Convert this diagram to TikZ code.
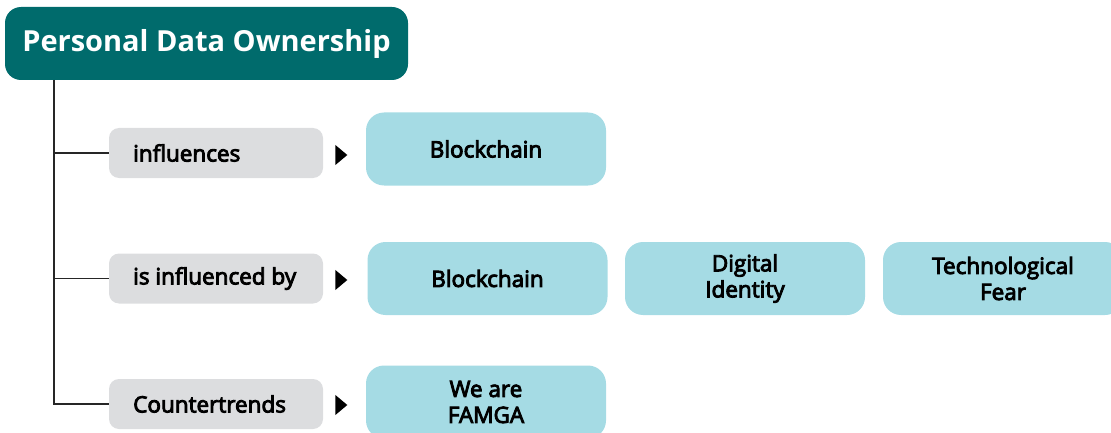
\documentclass[tikz,border=0pt]{standalone}
\usepackage{fontspec}
\setmainfont{Open Sans}
\usetikzlibrary{shapes.geometric}
\definecolor{teal1}{RGB}{0,107,108}
\definecolor{graybox}{RGB}{220,221,223}
\definecolor{cyanbox}{RGB}{165,219,228}
\newfontfamily\medfont[FakeBold=4]{Open Sans}
\tikzset{
  titlebox/.style={fill=teal1, rounded corners=16pt, inner sep=0pt, minimum width=403pt, minimum height=73pt, text=white, font=\fontsize{29}{32}\selectfont\bfseries},
  relbox/.style={fill=graybox, rounded corners=10pt, inner sep=0pt, minimum width=214pt, minimum height=50pt},
  reltext/.style={anchor=west, inner sep=0pt, font=\medfont\fontsize{22.5}{24}\selectfont},
  topicbox/.style={fill=cyanbox, rounded corners=18pt, inner sep=0pt, minimum width=240pt, minimum height=73pt, align=center, font=\medfont\fontsize{22.5}{26}\selectfont},
  tri/.style={fill=black, isosceles triangle, isosceles triangle apex angle=80, inner sep=0pt, minimum height=12pt, minimum width=19pt},
  conn/.style={draw=black!85, line width=1.2pt}
}
\begin{document}
\begin{tikzpicture}[x=1pt,y=-1pt]
\useasboundingbox (0,0) rectangle (1111,433);
\begin{scope}
\clip (0,0) rectangle (1111,433);
\node[titlebox] (title) at (206.5,43.5) {Personal Data Ownership};
\coordinate (top) at (54,80);

\node[relbox] (r1) at (216,153) {};
\node[relbox] (r2) at (216,278.5) {};
\node[relbox] (r3) at (216,404) {};
\node[reltext] (t1) at (133,153) {influences};
\node[reltext] (t2) at (133,278.5) {is influenced by};
\node[reltext] (t3) at (133,404) {Countertrends};

\draw[conn] (top) |- (r3.west);
\draw[conn] (r1.west) -- (r1.west -| top);
\draw[conn] (r2.west) -- (r2.west -| top);

\node[tri] (a1) at (340,155) {};
\node[tri] (a2) at (340,280) {};
\node[tri] (a3) at (340,405) {};

\node[topicbox] (c1) at (486,149) {Blockchain};
\node[topicbox] (c2) at (487.5,278.5) {Blockchain};
\node[topicbox] (c3) at (745,278.5) {Digital\\Identity};
\node[topicbox] (c4) at (1003,278.5) {Technological\\Fear};
\node[topicbox] (c5) at (486,402) {We are\\FAMGA};
\end{scope}
\end{tikzpicture}
\end{document}
